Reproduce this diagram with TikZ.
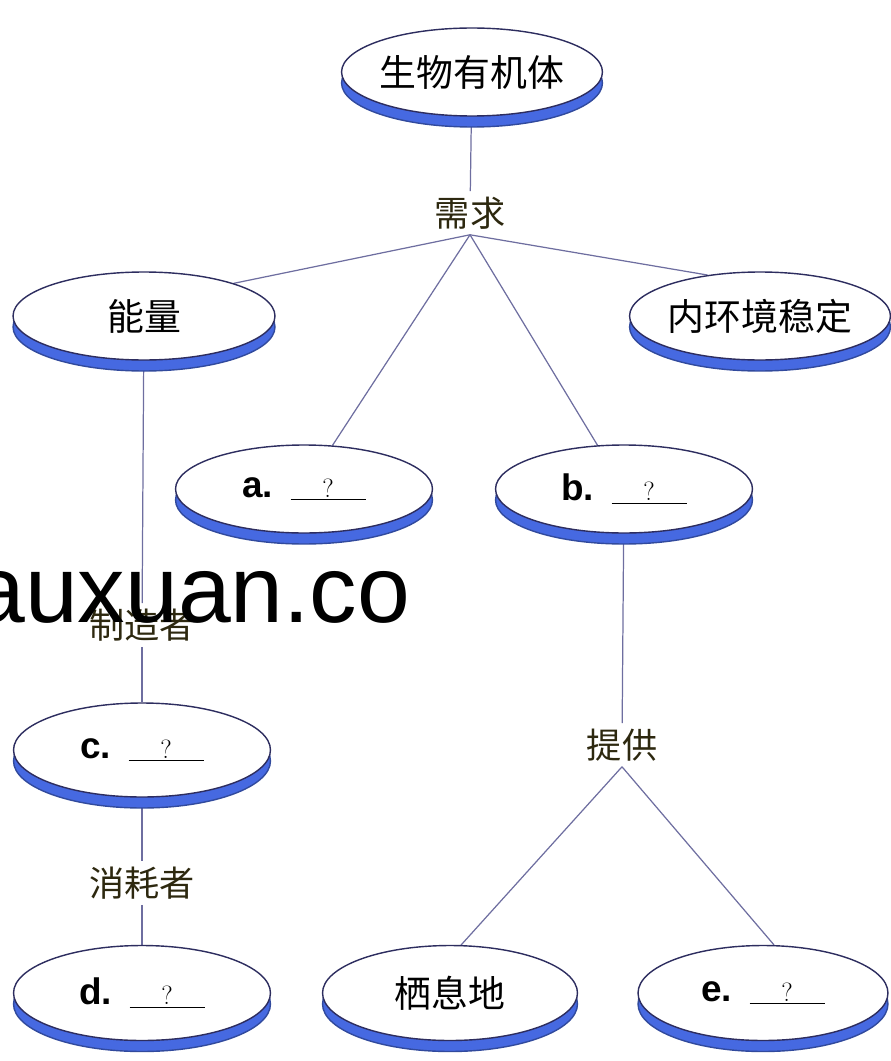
\documentclass[tikz,border=0pt]{standalone}
\usepackage{fontspec}
\setsansfont{Liberation Sans}
\newfontfamily\cjk{Noto Sans CJK SC}
\usetikzlibrary{shapes.geometric,shadows,backgrounds}

\definecolor{discblue}{RGB}{70,105,225}
\definecolor{rimnavy}{RGB}{45,45,95}
\definecolor{linkgray}{RGB}{110,110,160}
\definecolor{wordolive}{RGB}{45,40,15}

% letter tag and blank answer line
\newcommand{\tagq}[1]{{\sffamily\bfseries\fontsize{21}{24}\selectfont #1.}\hspace{0.35cm}%
  \underline{\makebox[1.5cm]{\rmfamily\fontsize{15}{15}\selectfont ?}}}

\begin{document}
\begin{tikzpicture}[x=0.02cm,y=-0.02cm,
  disc/.style={ellipse,draw=rimnavy,thick,fill=white,inner sep=0pt,
    minimum width=5.1cm,minimum height=1.76cm,
    drop shadow={shadow xshift=0pt,shadow yshift=-0.22cm,fill=discblue,
      draw=discblue!70!black,opacity=1},
    font=\cjk\fontsize{21}{24}\selectfont},
  word/.style={font=\cjk\fontsize{20}{24}\selectfont,text=wordolive,inner sep=3pt},
  link/.style={draw=linkgray,line width=0.7pt}]
  \useasboundingbox (0,0) rectangle (891,1061);

  % Top level
  \node[disc] (body) at (472,72) {生物有机体};
  \node[word] (need) at (470,213) {需求};

  % Second level
  \node[disc,minimum width=5.24cm] (energy) at (144,316) {能量};
  \node[disc,minimum width=5.12cm] (inner) at (760,316) {内环境稳定};
  \node[disc,minimum width=5.14cm] (a) at (304,489) {\tagq{a}};
  \node[disc,minimum width=5.14cm] (b) at (624,489) {\tagq{b}};

  % Left branch
  \node[word] (maker) at (142,625) {制造者};
  \node[disc,minimum width=5.14cm,minimum height=1.88cm] (c) at (142,750) {\tagq{c}};
  \node[word] (user) at (142,883) {消耗者};
  \node[disc,minimum width=5.14cm,minimum height=1.9cm] (d) at (142,993) {\tagq{d}};

  % Right branch
  \node[word] (give) at (622,745) {提供};
  \node[disc,minimum height=1.9cm] (home) at (450,993) {栖息地};
  \node[disc,minimum width=5.0cm,minimum height=1.9cm] (e) at (763,993) {\tagq{e}};

  % Connectors
  \begin{scope}[on background layer]
    \draw[link] (body) -- (need);
    \draw[link] (need.south) -- (energy.20);
    \draw[link] (need.south) -- (inner.142);
    \draw[link] (need.south) -- (a);
    \draw[link] (need.south) -- (b);
    \draw[link] (energy) -- (maker);
    \draw[link] (maker) -- (c);
    \draw[link] (c) -- (user);
    \draw[link] (user) -- (d);
    \draw[link] (b) -- (give);
    \draw[link] (give.south) -- (home.77);
    \draw[link] (give.south) -- (e.77);
  \end{scope}

  % Watermark
  \node[anchor=base west,inner sep=0pt,font=\sffamily\fontsize{54}{60}\selectfont] (mark) at (-28,622) {auxuan.co};
\end{tikzpicture}
\end{document}
